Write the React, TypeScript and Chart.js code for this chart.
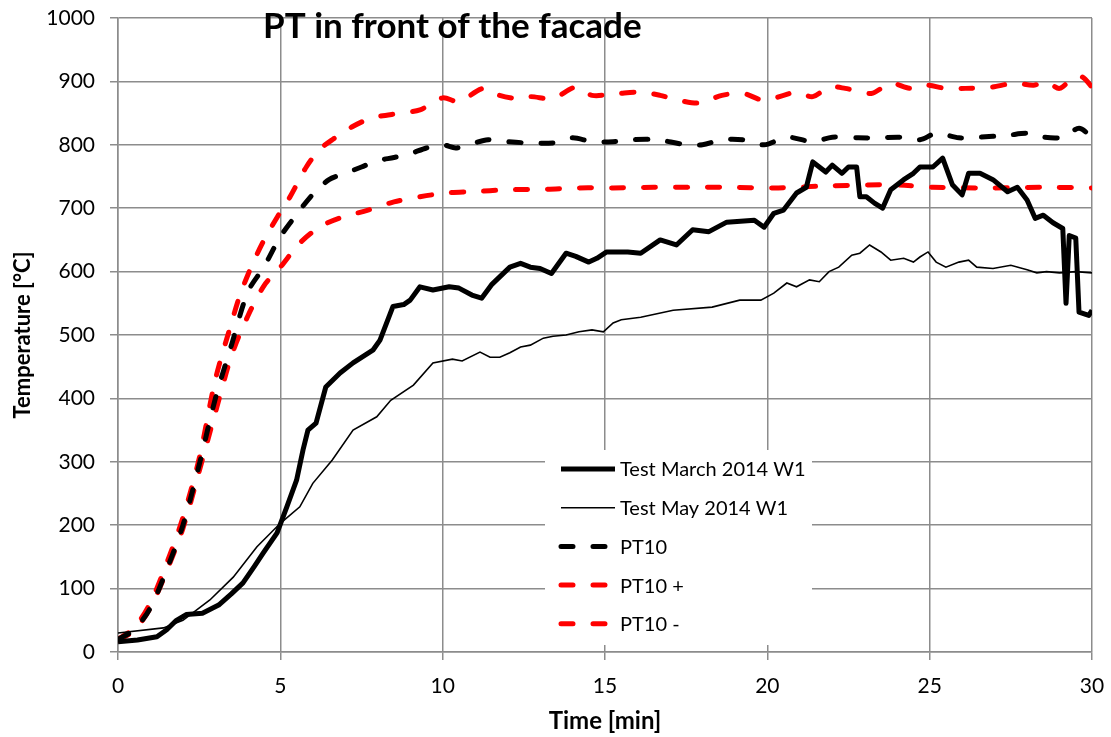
import React, { useEffect, useRef } from "react";
import { Chart, registerables } from "chart.js";

Chart.register(...registerables);

const FONT = "Lato, 'Open Sans', sans-serif";

const chartTitle = "PT in front of the facade";
const xAxisTitle = "Time [min]";
const yAxisTitle = "Temperature [°C]";
const xTicks = [0, 5, 10, 15, 20, 25, 30];
const yTicks = [0, 100, 200, 300, 400, 500, 600, 700, 800, 900, 1000];

const seriesNames = ["Test March 2014 W1", "Test May 2014 W1", "PT10", "PT10 +", "PT10 -"];

const marchTime = [0, 0.6, 1.2, 1.5, 1.8, 2.1, 2.6, 3.1, 3.5, 3.85, 4.2, 4.47, 4.9, 5.2, 5.5, 5.7, 5.85, 6.1, 6.4, 6.84, 7.24, 7.85, 8.07, 8.47, 8.8, 9.0, 9.3, 9.7, 10.2, 10.5, 10.9, 11.2, 11.5, 12.07, 12.4, 12.7, 13.0, 13.35, 13.8, 14.1, 14.5, 14.75, 15.05, 15.7, 16.1, 16.7, 17.2, 17.7, 18.2, 18.75, 19.6, 19.9, 20.2, 20.5, 20.9, 21.2, 21.4, 21.8, 22.0, 22.3, 22.5, 22.75, 22.85, 23.05, 23.3, 23.55, 23.8, 24.2, 24.5, 24.7, 25.1, 25.4, 25.7, 26.0, 26.2, 26.55, 26.95, 27.4, 27.7, 28.0, 28.25, 28.5, 28.8, 29.1, 29.2, 29.3, 29.5, 29.6, 29.9, 30];
const marchTemp = [16, 19, 24, 35, 50, 59, 61, 74, 92, 109, 135, 156, 188, 229, 271, 319, 350, 361, 418, 440, 456, 476, 492, 545, 548, 555, 576, 571, 576, 574, 563, 558, 579, 607, 613, 607, 605, 597, 629, 624, 615, 621, 631, 631, 629, 650, 642, 666, 663, 678, 681, 670, 692, 697, 724, 733, 773, 757, 768, 755, 765, 765, 718, 718, 708, 700, 729, 745, 755, 765, 765, 779, 737, 721, 755, 755, 745, 726, 733, 713, 684, 689, 677, 668, 550, 657, 653, 536, 531, 539];

const mayTime = [0, 1.4, 2.0, 2.83, 3.55, 4.28, 5.0, 5.6, 6.0, 6.6, 7.24, 7.97, 8.4, 9.1, 9.7, 10.3, 10.6, 11.15, 11.46, 11.76, 12.07, 12.4, 12.7, 13.1, 13.4, 13.8, 14.2, 14.6, 14.95, 15.25, 15.5, 16.1, 17.1, 18.3, 19.15, 19.8, 20.2, 20.6, 20.9, 21.3, 21.6, 21.9, 22.2, 22.6, 22.85, 23.15, 23.5, 23.8, 24.2, 24.5, 24.7, 24.95, 25.2, 25.5, 25.9, 26.2, 26.45, 26.95, 27.5, 28.0, 28.3, 28.6, 29.0, 29.5, 30];
const mayTemp = [30, 38, 50, 82, 118, 166, 203, 229, 266, 303, 350, 371, 397, 421, 456, 462, 459, 473, 465, 465, 472, 481, 484, 495, 498, 500, 505, 508, 505, 519, 524, 528, 539, 544, 555, 555, 566, 582, 576, 587, 584, 600, 607, 626, 629, 642, 631, 618, 621, 615, 623, 631, 615, 607, 615, 618, 607, 605, 610, 603, 598, 600, 598, 600, 598];

const pt10Time = [0, 0.5, 1, 1.5, 2, 2.5, 3, 3.5, 4, 4.5, 5, 5.5, 6, 6.5, 7, 7.5, 8, 8.5, 9, 9.5, 10, 10.4, 10.8, 11.4, 12, 12.6, 13.4, 14, 14.6, 15.25, 15.8, 16.6, 17.4, 18, 18.6, 19.25, 19.9, 20.6, 21.4, 22, 22.8, 23.4, 24.1, 24.7, 25.2, 25.9, 26.5, 27.4, 28, 28.5, 29.1, 29.6, 30];
const pt10Temp = [20, 35, 70, 130, 200, 295, 400, 485, 568, 608, 655, 690, 722, 745, 755, 765, 775, 780, 786, 795, 800, 795, 800, 808, 805, 803, 803, 811, 805, 805, 808, 808, 801, 800, 808, 808, 800, 812, 805, 812, 811, 811, 812, 808, 818, 811, 812, 815, 818, 812, 812, 826, 812];

const pt10PlusTime = [0, 0.5, 1, 1.5, 2, 2.5, 3, 3.5, 3.75, 4.1, 4.5, 5, 5.3, 5.8, 6.2, 6.6, 7.2, 7.8, 8.7, 9.3, 10, 10.5, 11.25, 11.75, 12.3, 12.7, 13.4, 14.1, 14.6, 15.4, 16.1, 16.7, 17.3, 17.9, 18.6, 19.25, 19.9, 20.5, 20.9, 21.4, 21.9, 22.4, 23.2, 23.8, 24.4, 24.9, 25.5, 26.1, 26.9, 27.6, 28.2, 28.6, 29, 29.4, 29.7, 30];
const pt10PlusTemp = [20, 38, 78, 140, 212, 305, 430, 520, 562, 607, 650, 694, 718, 765, 792, 808, 828, 842, 850, 855, 874, 868, 889, 878, 873, 876, 873, 891, 878, 881, 883, 878, 870, 866, 878, 881, 870, 878, 883, 876, 891, 889, 881, 897, 889, 894, 889, 889, 891, 897, 894, 899, 889, 905, 907, 891];

const pt10MinusTime = [0, 0.5, 1, 1.5, 2, 2.5, 3, 3.5, 4, 4.5, 5, 5.6, 6.2, 6.8, 7.7, 8.5, 9.3, 10.1, 10.9, 12, 13.2, 14.2, 15.25, 16.5, 17.7, 18.75, 20.2, 21.8, 23.9, 25.1, 26.9, 28.5, 30];
const pt10MinusTemp = [18, 34, 70, 128, 195, 285, 378, 468, 530, 578, 607, 645, 670, 684, 697, 710, 718, 724, 726, 729, 730, 732, 732, 733, 733, 733, 732, 735, 737, 733, 732, 733, 732];

const GRID = "rgb(140,140,140)";

const overlayPlugin = {
  id: "overlay",
  afterDatasetsDraw(chart: any) {
    const { ctx, chartArea } = chart;
    ctx.save();
    // legend box inside the plot area
    const bx = chartArea.left + 427;
    const by = chartArea.top + 432;
    ctx.fillStyle = "#ffffff";
    ctx.fillRect(bx, by, 267, 195);
    const rowH = 38.7;
    chart.data.datasets.forEach((ds: any, i: number) => {
      const y = by + 19 + i * rowH;
      ctx.beginPath();
      ctx.strokeStyle = ds.borderColor;
      ctx.lineWidth = ds.borderWidth;
      ctx.lineCap = ds.borderDash && ds.borderDash.length ? "round" : "butt";
      ctx.setLineDash(ds.borderDash || []);
      ctx.moveTo(bx + 16, y);
      ctx.lineTo(bx + 70, y);
      ctx.stroke();
      ctx.setLineDash([]);
      ctx.fillStyle = "#000";
      ctx.font = `20px ${FONT}`;
      ctx.textAlign = "left";
      ctx.textBaseline = "middle";
      ctx.fillText(ds.label, bx + 75, y + 1);
    });
    // title
    ctx.fillStyle = "#000";
    ctx.font = `bold 35px ${FONT}`;
    ctx.textAlign = "left";
    ctx.textBaseline = "alphabetic";
    ctx.fillText(chartTitle, chartArea.left + 145, 38);
    ctx.restore();
  },
};

export default function App() {
  const ref = useRef<HTMLCanvasElement>(null);
  useEffect(() => {
    document.body.style.margin = "0";
    const pts = (t: number[], v: number[]) => t.map((x, i) => ({ x, y: v[i] }));
    const chart = new Chart(ref.current as HTMLCanvasElement, {
      type: "line",
      data: {
        datasets: [
          { label: seriesNames[0], data: pts(marchTime, marchTemp), borderColor: "#000", borderWidth: 5, pointRadius: 0, tension: 0, borderJoinStyle: "round" },
          { label: seriesNames[1], data: pts(mayTime, mayTemp), borderColor: "#000", borderWidth: 1.6, pointRadius: 0, tension: 0 },
          { label: seriesNames[2], data: pts(pt10Time, pt10Temp), borderColor: "#000", borderWidth: 5, borderDash: [12, 20], borderCapStyle: "round", pointRadius: 0, tension: 0.3 },
          { label: seriesNames[3], data: pts(pt10PlusTime, pt10PlusTemp), borderColor: "#ff0000", borderWidth: 5, borderDash: [12, 20], borderCapStyle: "round", pointRadius: 0, tension: 0.3 },
          { label: seriesNames[4], data: pts(pt10MinusTime, pt10MinusTemp), borderColor: "#ff0000", borderWidth: 5, borderDash: [12, 20], borderCapStyle: "round", pointRadius: 0, tension: 0.3 },
        ] as any,
      },
      options: {
        animation: false,
        responsive: false,
        layout: { padding: { left: 0, right: 19, top: 18, bottom: 0 } },
        plugins: { legend: { display: false }, tooltip: { enabled: false }, title: { display: false } },
        scales: {
          x: {
            type: "linear",
            min: 0,
            max: 30,
            afterBuildTicks: (s: any) => { s.ticks = xTicks.map((v) => ({ value: v })); },
            afterFit: (s: any) => { s.height = 85; s.paddingLeft = 0; s.paddingRight = 0; },
            grid: { color: GRID, lineWidth: 1.5, tickLength: 8 },
            border: { color: GRID, width: 1.5 },
            ticks: { color: "#000", font: { family: FONT, size: 21 }, padding: 14, maxRotation: 0, callback: (v: any) => String(v) },
            title: { display: true, text: xAxisTitle, color: "#000", font: { family: FONT, size: 24, weight: "bold" }, padding: { top: 0, bottom: 1 } },
          },
          y: {
            min: 0,
            max: 1000,
            afterBuildTicks: (s: any) => { s.ticks = yTicks.map((v) => ({ value: v })); },
            afterFit: (s: any) => { s.width = 118; s.paddingTop = 0; s.paddingBottom = 0; },
            grid: { color: GRID, lineWidth: 1.5, tickLength: 8 },
            border: { color: GRID, width: 1.5 },
            ticks: { color: "#000", font: { family: FONT, size: 21 }, padding: 15, callback: (v: any) => String(v) },
            title: { display: true, text: yAxisTitle, color: "#000", font: { family: FONT, size: 22, weight: "bold" }, padding: { top: 10, bottom: 0 } },
          },
        },
      } as any,
      plugins: [overlayPlugin],
    });
    return () => chart.destroy();
  }, []);
  return (
    <div style={{ width: 1111, height: 737 }}>
      <canvas ref={ref} width={1111} height={737} style={{ display: "block" }} />
    </div>
  );
}
